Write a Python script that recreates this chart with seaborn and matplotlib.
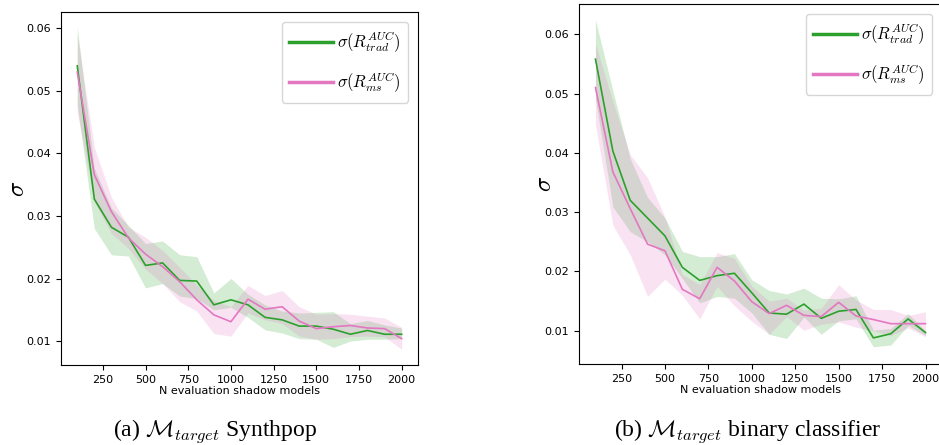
import matplotlib
matplotlib.use("Agg")
import matplotlib.pyplot as plt
import seaborn as sns

plt.rcParams['mathtext.fontset'] = 'cm'

# number of evaluation shadow models
n_models = [100, 200, 300, 400, 500, 600, 700, 800, 900, 1000,
            1100, 1200, 1300, 1400, 1500, 1600, 1700, 1800, 1900, 2000]

# (a) Synthpop
syn_trad = [0.0540, 0.0327, 0.0282, 0.0266, 0.0221, 0.0225, 0.0197, 0.0196, 0.0158, 0.0166,
            0.0158, 0.0138, 0.0134, 0.0124, 0.0124, 0.0119, 0.0111, 0.0117, 0.0111, 0.0111]
syn_trad_hi = [0.0602, 0.0376, 0.0313, 0.0285, 0.0256, 0.0260, 0.0238, 0.0235, 0.0177, 0.0200,
               0.0175, 0.0158, 0.0148, 0.0145, 0.0146, 0.0147, 0.0128, 0.0133, 0.0126, 0.0121]
syn_trad_lo = [0.0477, 0.0280, 0.0238, 0.0236, 0.0185, 0.0192, 0.0172, 0.0168, 0.0150, 0.0154,
               0.0138, 0.0118, 0.0113, 0.0104, 0.0103, 0.0090, 0.0100, 0.0103, 0.0103, 0.0104]
syn_ms = [0.0530, 0.0366, 0.0307, 0.0265, 0.0239, 0.0219, 0.0195, 0.0166, 0.0142, 0.0131,
          0.0167, 0.0151, 0.0155, 0.0132, 0.0120, 0.0123, 0.0125, 0.0121, 0.0120, 0.0104]
syn_ms_hi = [0.0589, 0.0410, 0.0330, 0.0282, 0.0266, 0.0245, 0.0218, 0.0190, 0.0165, 0.0155,
             0.0189, 0.0173, 0.0181, 0.0155, 0.0143, 0.0144, 0.0143, 0.0140, 0.0137, 0.0122]
syn_ms_lo = [0.0466, 0.0323, 0.0272, 0.0248, 0.0215, 0.0192, 0.0163, 0.0148, 0.0112, 0.0108,
             0.0145, 0.0134, 0.0128, 0.0108, 0.0103, 0.0104, 0.0107, 0.0108, 0.0107, 0.0087]

# (b) binary classifier
clf_trad = [0.0558, 0.0403, 0.0320, 0.0290, 0.0260, 0.0207, 0.0185, 0.0193, 0.0197, 0.0164,
            0.0130, 0.0128, 0.0145, 0.0121, 0.0133, 0.0136, 0.0088, 0.0095, 0.0120, 0.0097]
clf_trad_hi = [0.0624, 0.0505, 0.0390, 0.0325, 0.0290, 0.0234, 0.0225, 0.0225, 0.0230, 0.0186,
               0.0168, 0.0162, 0.0172, 0.0155, 0.0154, 0.0159, 0.0101, 0.0104, 0.0129, 0.0100]
clf_trad_lo = [0.0490, 0.0309, 0.0267, 0.0250, 0.0228, 0.0188, 0.0147, 0.0158, 0.0155, 0.0130,
               0.0094, 0.0087, 0.0123, 0.0094, 0.0117, 0.0120, 0.0073, 0.0076, 0.0109, 0.0092]
clf_ms = [0.0510, 0.0368, 0.0306, 0.0246, 0.0235, 0.0170, 0.0154, 0.0207, 0.0184, 0.0149,
          0.0129, 0.0143, 0.0126, 0.0124, 0.0148, 0.0125, 0.0119, 0.0112, 0.0112, 0.0112]
clf_ms_hi = [0.0584, 0.0487, 0.0397, 0.0358, 0.0292, 0.0195, 0.0178, 0.0232, 0.0222, 0.0175,
             0.0150, 0.0155, 0.0135, 0.0138, 0.0178, 0.0152, 0.0136, 0.0136, 0.0126, 0.0132]
clf_ms_lo = [0.0447, 0.0278, 0.0228, 0.0158, 0.0187, 0.0160, 0.0120, 0.0175, 0.0142, 0.0116,
             0.0094, 0.0124, 0.0101, 0.0111, 0.0115, 0.0106, 0.0100, 0.0092, 0.0105, 0.0090]

labels = [r'$\sigma(R^{AUC}_{trad})$', r'$\sigma(R^{AUC}_{ms})$']
colors = ['tab:green', 'tab:pink']


def draw_panel(ax, trad, trad_lo, trad_hi, ms, ms_lo, ms_hi, ylim, ypad):
    ax.fill_between(n_models, trad_lo, trad_hi, color=colors[0], alpha=0.2, lw=0)
    ax.fill_between(n_models, ms_lo, ms_hi, color=colors[1], alpha=0.2, lw=0)
    sns.lineplot(x=n_models, y=trad, color=colors[0], lw=1.2, label=labels[0], ax=ax)
    sns.lineplot(x=n_models, y=ms, color=colors[1], lw=1.2, label=labels[1], ax=ax)
    ax.set_ylim(*ylim)
    ax.set_xlabel('N evaluation shadow models', fontsize=8, labelpad=1)
    ax.set_ylabel(r'$\sigma$', fontsize=18, labelpad=ypad)
    ax.tick_params(labelsize=8)
    leg = ax.legend(loc='upper right', fontsize=12, handlelength=2.6, handletextpad=0.25,
                    labelspacing=1.0, borderpad=0.45, borderaxespad=0.6, fancybox=True)
    for line in leg.get_lines():
        line.set_linewidth(2.5)


fig = plt.figure(figsize=(9.39, 4.45), dpi=100)
ax1 = fig.add_axes([0.065, 0.18, 0.380, 0.793])
ax2 = fig.add_axes([0.6166, 0.182, 0.3866, 0.809])

draw_panel(ax1, syn_trad, syn_trad_lo, syn_trad_hi, syn_ms, syn_ms_lo, syn_ms_hi,
           (0.0062, 0.0626), -2)
draw_panel(ax2, clf_trad, clf_trad_lo, clf_trad_hi, clf_ms, clf_ms_lo, clf_ms_hi,
           (0.0044, 0.0651), -8)

# subfigure captions
fig.text(0.229, 0.021, r'(a) $\mathcal{M}_{target}$ Synthpop', ha='center', va='baseline',
         fontsize=17, family='Liberation Serif')
fig.text(0.796, 0.021, r'(b) $\mathcal{M}_{target}$ binary classifier', ha='center', va='baseline',
         fontsize=17, family='Liberation Serif')

fig.savefig('out.png', dpi=100)
